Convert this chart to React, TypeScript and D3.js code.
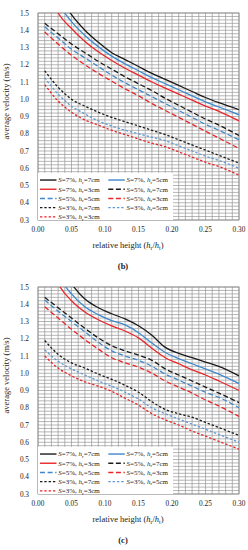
import React from 'react';
import * as d3 from 'd3';

// relative height values (h_r/h_t)
const H = [0.01, 0.03, 0.05, 0.07, 0.09, 0.11, 0.13, 0.15, 0.17, 0.19, 0.21, 0.23, 0.25, 0.27, 0.30];

// panel (b)
const b_S7h7 = [1.80, 1.62, 1.49, 1.40, 1.33, 1.27, 1.23, 1.19, 1.15, 1.115, 1.08, 1.045, 1.01, 0.98, 0.94];
const b_S7h5 = [1.74, 1.56, 1.45, 1.37, 1.305, 1.25, 1.205, 1.165, 1.125, 1.09, 1.055, 1.02, 0.985, 0.955, 0.91];
const b_S7h3 = [1.68, 1.50, 1.41, 1.335, 1.275, 1.225, 1.18, 1.14, 1.10, 1.065, 1.03, 0.995, 0.96, 0.93, 0.875];
const b_S5h7 = [1.44, 1.38, 1.32, 1.27, 1.22, 1.175, 1.13, 1.09, 1.05, 1.005, 0.965, 0.925, 0.885, 0.85, 0.79];
const b_S5h5 = [1.42, 1.355, 1.29, 1.24, 1.19, 1.14, 1.095, 1.055, 1.015, 0.975, 0.935, 0.895, 0.855, 0.82, 0.765];
const b_S5h3 = [1.39, 1.32, 1.255, 1.20, 1.15, 1.105, 1.06, 1.02, 0.975, 0.935, 0.895, 0.855, 0.815, 0.775, 0.715];
const b_S3h7 = [1.165, 1.07, 1.0, 0.96, 0.925, 0.895, 0.87, 0.845, 0.82, 0.795, 0.765, 0.735, 0.705, 0.675, 0.63];
const b_S3h5 = [1.125, 1.03, 0.96, 0.915, 0.875, 0.845, 0.82, 0.80, 0.78, 0.76, 0.73, 0.70, 0.67, 0.645, 0.60];
const b_S3h3 = [1.085, 0.99, 0.925, 0.88, 0.85, 0.82, 0.795, 0.77, 0.745, 0.725, 0.695, 0.665, 0.635, 0.61, 0.56];

// panel (c)
const c_S7h7 = [1.85, 1.66, 1.52, 1.43, 1.38, 1.345, 1.315, 1.275, 1.22, 1.15, 1.115, 1.09, 1.065, 1.04, 0.985];
const c_S7h5 = [1.78, 1.57, 1.46, 1.385, 1.34, 1.305, 1.28, 1.235, 1.175, 1.12, 1.085, 1.055, 1.025, 0.995, 0.94];
const c_S7h3 = [1.72, 1.52, 1.42, 1.355, 1.31, 1.275, 1.245, 1.205, 1.145, 1.09, 1.055, 1.02, 0.99, 0.955, 0.90];
const c_S5h7 = [1.44, 1.38, 1.32, 1.26, 1.205, 1.16, 1.13, 1.105, 1.075, 1.025, 0.99, 0.955, 0.92, 0.885, 0.83];
const c_S5h5 = [1.425, 1.36, 1.30, 1.24, 1.18, 1.13, 1.10, 1.075, 1.04, 0.995, 0.96, 0.925, 0.89, 0.86, 0.80];
const c_S5h3 = [1.385, 1.32, 1.255, 1.195, 1.14, 1.09, 1.06, 1.035, 1.0, 0.955, 0.92, 0.885, 0.845, 0.81, 0.75];
const c_S3h7 = [1.19, 1.11, 1.06, 1.03, 0.995, 0.965, 0.93, 0.89, 0.835, 0.79, 0.765, 0.745, 0.715, 0.685, 0.64];
const c_S3h5 = [1.135, 1.07, 1.025, 0.99, 0.955, 0.925, 0.89, 0.85, 0.80, 0.765, 0.735, 0.705, 0.675, 0.645, 0.60];
const c_S3h3 = [1.10, 1.03, 0.985, 0.95, 0.925, 0.895, 0.855, 0.815, 0.765, 0.73, 0.70, 0.665, 0.635, 0.605, 0.56];

const X_TICKS = [0, 0.05, 0.1, 0.15, 0.2, 0.25, 0.3];
const Y_TICKS = [0.3, 0.4, 0.5, 0.6, 0.7, 0.8, 0.9, 1.0, 1.1, 1.2, 1.3, 1.4, 1.5];
const SLOPES = ['7', '7', '7', '5', '5', '5', '3', '3', '3'];
const HEIGHTS = ['7', '5', '3', '7', '5', '3', '7', '5', '3'];

const BLACK = '#1a1a1a';
const BLUE = '#3f88cc';
const RED = '#e8262a';
const LIGHTBLUE = '#5f9ad6';
const COLORS = [BLACK, BLUE, RED, BLACK, BLUE, RED, BLACK, LIGHTBLUE, RED];
const DASHES = [null, null, null, '5,2.6', '5,2.6', '5,2.6', '2.4,1.9', '2.4,1.9', '2.4,1.9'];

const FONT = 'Liberation Serif, Times New Roman, serif';

const LEFT = 38;
const RIGHT = 239;
const PH = 207;

function Panel({ top, series, letter, id }: { top: number; series: number[][]; letter: string; id: string }) {
  const bottom = top + PH;
  const x = d3.scaleLinear().domain([0, 0.3]).range([LEFT, RIGHT]);
  const y = d3.scaleLinear().domain([0.3, 1.5]).range([bottom, top]);
  const line = d3
    .line<[number, number]>()
    .x((d) => x(d[0]))
    .y((d) => y(d[1]))
    .curve(d3.curveMonotoneX);

  const vGrid = d3.range(0, 31).map((i) => i / 100);
  const hGrid = d3.range(0, 61).map((i) => 0.3 + i * 0.02);

  // legend layout
  const legTop = y(0.574);
  const legRight = 173;
  const rowH = 9.2;
  const order = [0, 1, 2, 3, 4, 5, 6, 7, 8];

  return (
    <g>
      <defs>
        <clipPath id={id}>
          <rect x={LEFT} y={top} width={RIGHT - LEFT} height={PH} />
        </clipPath>
      </defs>
      <rect x={LEFT} y={top} width={RIGHT - LEFT} height={PH} fill="#fff" />
      {vGrid.map((v, i) => (
        <line key={'v' + i} x1={x(v)} x2={x(v)} y1={top} y2={bottom} stroke="#959595" strokeWidth={0.7} />
      ))}
      {hGrid.map((v, i) => (
        <line key={'h' + i} x1={LEFT} x2={RIGHT} y1={y(v)} y2={y(v)} stroke="#959595" strokeWidth={0.7} />
      ))}
      <rect x={LEFT} y={top} width={RIGHT - LEFT} height={PH} fill="none" stroke="#8a8a8a" strokeWidth={0.8} />
      <g clipPath={`url(#${id})`}>
        {series.map((vals, si) => (
          <path
            key={si}
            d={line(H.map((h, i) => [h, vals[i]] as [number, number])) || ''}
            fill="none"
            stroke={COLORS[si]}
            strokeWidth={1.3}
            strokeDasharray={DASHES[si] || undefined}
          />
        ))}
      </g>
      {/* legend */}
      <rect x={LEFT} y={legTop} width={legRight - LEFT} height={bottom - legTop} fill="#fff" />
      {order.map((si, k) => {
        const col = k % 2;
        const row = Math.floor(k / 2);
        const ly = legTop + 7.3 + row * rowH;
        const lx = col === 0 ? 40 : 108.3;
        return (
          <g key={'l' + si}>
            <line
              x1={lx}
              x2={lx + 16.5}
              y1={ly}
              y2={ly}
              stroke={COLORS[si]}
              strokeWidth={1.4}
              strokeDasharray={DASHES[si] || undefined}
            />
            <text x={lx + 18.3} y={ly + 2.4} fontSize={7} fontFamily={FONT} fill="#222">
              <tspan fontStyle="italic">S</tspan>
              <tspan>{`=${SLOPES[si]}%, `}</tspan>
              <tspan fontStyle="italic">h</tspan>
              <tspan fontSize={4.8} dy={1.4}>r</tspan>
              <tspan dy={-1.4}>{`=${HEIGHTS[si]}cm`}</tspan>
            </text>
          </g>
        );
      })}
      {/* y ticks */}
      {Y_TICKS.map((v) => (
        <text key={'yt' + v} x={29} y={y(v) + 2.5} fontSize={7.3} fontFamily={FONT} textAnchor="end" fill="#222">
          {v.toFixed(1)}
        </text>
      ))}
      {X_TICKS.map((v) => (
        <text key={'xt' + v} x={x(v)} y={bottom + 11.5} fontSize={7.3} fontFamily={FONT} textAnchor="middle" fill="#222">
          {v.toFixed(2)}
        </text>
      ))}
      <text
        transform={`translate(9,${(top + bottom) / 2 - 15}) rotate(-90)`}
        fontSize={8.5}
        fontFamily={FONT}
        textAnchor="middle"
        fill="#222"
      >
        average velocity (m/s)
      </text>
      <text x={128} y={bottom + 28} fontSize={8.5} fontFamily={FONT} textAnchor="middle" fill="#222">
        <tspan>relative height (</tspan>
        <tspan fontStyle="italic">h</tspan>
        <tspan fontSize={5.8} dy={1.6}>r</tspan>
        <tspan dy={-1.6}>/</tspan>
        <tspan fontStyle="italic">h</tspan>
        <tspan fontSize={5.8} dy={1.6}>t</tspan>
        <tspan dy={-1.6}>)</tspan>
      </text>
      <text x={123} y={bottom + 49} fontSize={8.5} fontFamily={FONT} fontWeight="bold" textAnchor="middle" fill="#222">
        ({letter})
      </text>
    </g>
  );
}

export default function App() {
  const bSeries = [b_S7h7, b_S7h5, b_S7h3, b_S5h7, b_S5h5, b_S5h3, b_S3h7, b_S3h5, b_S3h3];
  const cSeries = [c_S7h7, c_S7h5, c_S7h3, c_S5h7, c_S5h5, c_S5h3, c_S3h7, c_S3h5, c_S3h3];
  return (
    <svg
      width={248}
      height={550}
      style={{ position: 'absolute', left: 0, top: 0, background: '#fff' }}
    >
      <rect width={248} height={550} fill="#fff" />
      <Panel top={13} series={bSeries} letter="b" id="clipB" />
      <Panel top={287} series={cSeries} letter="c" id="clipC" />
    </svg>
  );
}
